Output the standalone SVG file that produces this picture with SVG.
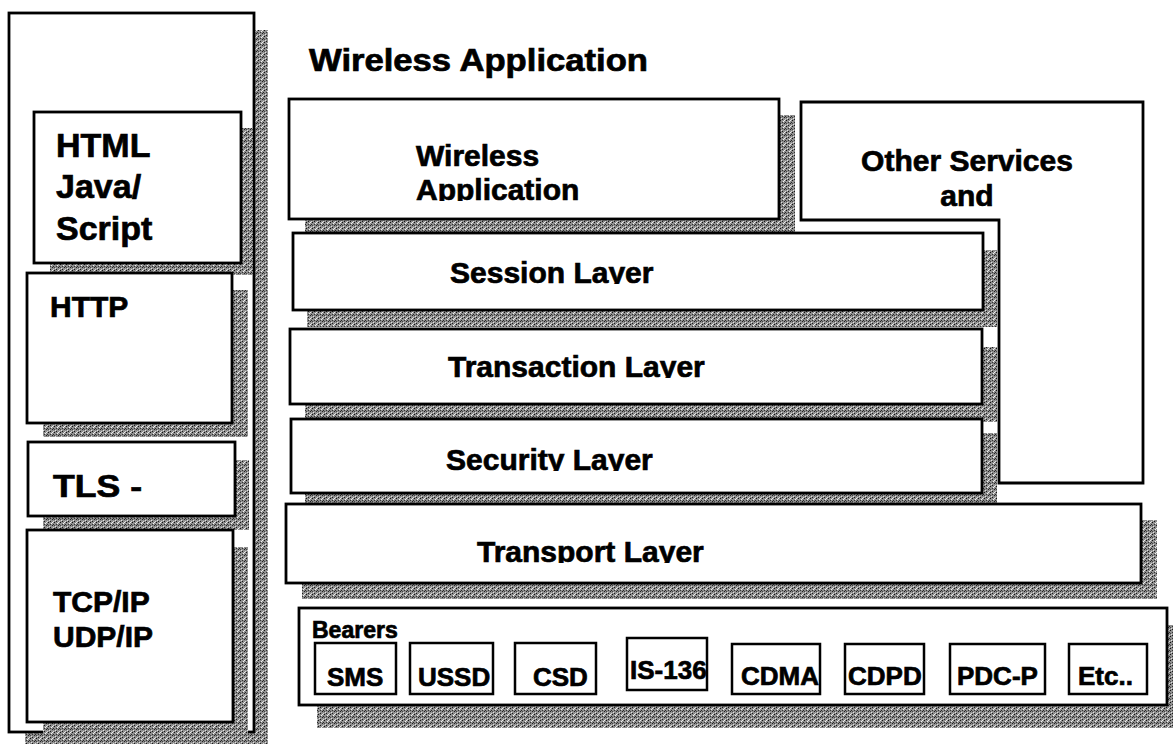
<svg xmlns="http://www.w3.org/2000/svg" width="1173" height="744" viewBox="0 0 1173 744">
<defs>
<pattern id="sh" width="6" height="6" patternUnits="userSpaceOnUse">
<rect width="6" height="6" fill="#8e8e8e"/>
<rect x="0" y="0" width="1" height="1" fill="#111"/>
<rect x="3" y="1" width="1" height="1" fill="#f4f4f4"/>
<rect x="4" y="3" width="1" height="1" fill="#222"/>
<rect x="1" y="4" width="1" height="1" fill="#e0e0e0"/>
<rect x="2" y="2" width="1" height="1" fill="#333"/>
<rect x="5" y="5" width="1" height="1" fill="#d8d8d8"/>
<rect x="0" y="3" width="1" height="1" fill="#444"/>
<rect x="4" y="0" width="1" height="1" fill="#eee"/>
<rect x="2" y="5" width="1" height="1" fill="#1a1a1a"/>
<rect x="5" y="2" width="1" height="1" fill="#2a2a2a"/>
</pattern>
<clipPath id="cWA"><rect x="289" y="99" width="490" height="102"/></clipPath>
<clipPath id="cSes"><rect x="293" y="233" width="690" height="51"/></clipPath>
<clipPath id="cTra"><rect x="290" y="329" width="692" height="49"/></clipPath>
<clipPath id="cSec"><rect x="291" y="419" width="691" height="52"/></clipPath>
<clipPath id="cTrp"><rect x="286" y="504" width="855" height="59"/></clipPath>
</defs>
<style>
.box{fill:#fff;stroke:#000;stroke-width:2.8}
.sbox{fill:#fff;stroke:#000;stroke-width:2.5}
.shd{fill:url(#sh)}
.t{font-family:"Liberation Sans",Arial,Helvetica,sans-serif;font-weight:bold;fill:#000;stroke:#000;stroke-width:0.7}
.f30{font-size:30px}
.f26{font-size:26px}
</style>
<rect width="1173" height="744" fill="#fff"/>

<g id="internet-stack">
<rect class="shd" x="25" y="30" width="243" height="716"/>
<rect class="box" x="9" y="13" width="245" height="719"/>
</g>

<g id="shadows">
<rect class="shd" x="50" y="128" width="203" height="147"/>
<rect class="shd" x="43" y="290" width="205" height="147"/>
<rect class="shd" x="43" y="460" width="206" height="70"/>
<rect class="shd" x="43" y="547" width="205" height="191"/>
<rect class="shd" x="305" y="115" width="490" height="117"/>
<rect class="shd" x="307" y="250" width="690" height="77"/>
<rect class="shd" x="305" y="347" width="692" height="75"/>
<rect class="shd" x="305" y="433" width="692" height="73"/>
<rect class="shd" x="302" y="520" width="855" height="79"/>
<rect class="shd" x="317" y="625" width="856" height="103"/>
</g>

<g id="html">
<rect class="box" x="34" y="112" width="207" height="151"/>
<text class="t" x="56" y="157" font-size="34">HTML</text>
<text class="t" x="56" y="198" font-size="34">Java/</text>
<text class="t" x="56" y="240" font-size="34">Script</text>
</g>
<g id="http">
<rect class="box" x="27" y="273" width="205" height="150"/>
<text class="t f30" x="50" y="317">HTTP</text>
</g>
<g id="tls">
<rect class="box" x="28" y="442" width="207" height="74"/>
<text class="t" x="53" y="497" font-size="31" textLength="89" lengthAdjust="spacingAndGlyphs">TLS -</text>
</g>
<g id="tcpip">
<rect class="box" x="27" y="530" width="206" height="192"/>
<text class="t f30" x="53" y="612">TCP/IP</text>
<text class="t f30" x="53" y="647">UDP/IP</text>
</g>

<g id="title">
<text class="t" x="309" y="71" font-size="31" textLength="339" lengthAdjust="spacingAndGlyphs">Wireless Application</text>
</g>

<g id="wireless-application">
<rect class="box" x="289" y="99" width="490" height="120"/>
<g clip-path="url(#cWA)">
<text class="t f30" x="416" y="166">Wireless</text>
<text class="t f30" x="416" y="200">Application</text>
</g>
</g>

<g id="other-services">
<path class="box" d="M801,102 H1143 V483 H999 V220 H801 Z"/>
<text class="t f30" x="967" y="171" text-anchor="middle">Other Services</text>
<text class="t f30" x="967" y="206" text-anchor="middle">and</text>
</g>

<g id="session-layer">
<rect class="box" x="293" y="233" width="690" height="77"/>
<text class="t f30" x="450" y="283" clip-path="url(#cSes)">Session Layer</text>
</g>
<g id="transaction-layer">
<rect class="box" x="290" y="329" width="692" height="75"/>
<text class="t f30" x="448" y="377" clip-path="url(#cTra)">Transaction Layer</text>
</g>
<g id="security-layer">
<rect class="box" x="291" y="419" width="691" height="74"/>
<text class="t f30" x="446" y="470" clip-path="url(#cSec)">Security Layer</text>
</g>
<g id="transport-layer">
<rect class="box" x="286" y="504" width="855" height="79"/>
<text class="t f30" x="477" y="562" clip-path="url(#cTrp)">Transport Layer</text>
</g>

<g id="bearers">
<rect class="box" x="299" y="608" width="868" height="97"/>
<text class="t" x="312" y="638" font-size="23">Bearers</text>
</g>
<g id="sms">
<rect class="sbox" x="315" y="643" width="81" height="51"/>
<text class="t f26" x="327" y="686">SMS</text>
</g>
<g id="ussd">
<rect class="sbox" x="410" y="643" width="83" height="51"/>
<text class="t f26" x="418" y="686">USSD</text>
</g>
<g id="csd">
<rect class="sbox" x="515" y="643" width="81" height="51"/>
<text class="t f26" x="533" y="686">CSD</text>
</g>
<g id="is136">
<rect class="sbox" x="627" y="638" width="80" height="52"/>
<text class="t f26" x="630" y="679">IS-136</text>
</g>
<g id="cdma">
<rect class="sbox" x="732" y="644" width="88" height="50"/>
<text class="t f26" x="741" y="685">CDMA</text>
</g>
<g id="cdpd">
<rect class="sbox" x="845" y="644" width="79" height="50"/>
<text class="t f26" x="848" y="685">CDPD</text>
</g>
<g id="pdcp">
<rect class="sbox" x="950" y="644" width="95" height="50"/>
<text class="t f26" x="957" y="685">PDC-P</text>
</g>
<g id="etc">
<rect class="sbox" x="1069" y="644" width="78" height="50"/>
<text class="t f26" x="1078" y="685">Etc..</text>
</g>
</svg>
